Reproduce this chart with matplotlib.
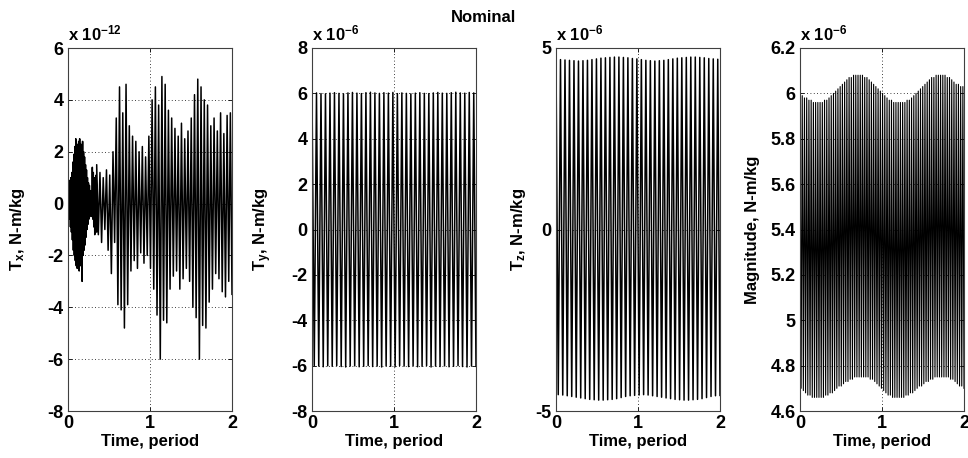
import numpy as np
import matplotlib
matplotlib.use("Agg")
import matplotlib.pyplot as plt

plt.rcParams['font.family'] = ['Liberation Sans', 'DejaVu Sans']
plt.rcParams['font.weight'] = 'bold'
plt.rcParams['axes.unicode_minus'] = False
plt.rcParams['mathtext.fontset'] = 'custom'
plt.rcParams['mathtext.rm'] = 'Liberation Sans:bold'
plt.rcParams['mathtext.bf'] = 'Liberation Sans:bold'
plt.rcParams['mathtext.it'] = 'Liberation Sans:bold'
plt.rcParams['mathtext.default'] = 'bf'

# ---------------- data (peak / trough values) ----------------
# Tx in units of 1e-12 N-m/kg
tx_blob_upper = [0.3, 0.6, 0.9, 1.0, 1.2, 1.6, 1.9, 2.2, 2.5, 2.3, 2.1, 2.4, 2.5, 2.3, 2.2,
                 2.4, 2.0, 1.8, 1.5, 1.3, 1.0, 0.8, 0.7, 0.5, 0.4, 1.4, 1.2, 1.0, 0.9, 1.1]
tx_blob_lower = [-0.3, -0.6, -0.9, -1.1, -1.4, -1.8, -2.0, -2.2, -2.4, -2.5, -2.3, -2.6, -2.4, -2.2, -3.0,
                 -2.0, -1.8, -1.6, -1.3, -1.0, -0.8, -0.6, -0.5, -0.4, -0.5, -0.6, -0.9, -1.2, -1.0, -1.1]
tx_main_upper = [1.5, 1.2, 1.0, 1.3, 1.1, 2.0,
                 3.3, 4.5, 3.5, 4.6, 3.0,
                 2.6, 2.4, 2.0, 2.2, 1.8,
                 2.6, 4.0, 4.5, 3.8, 4.9, 4.6, 3.6, 3.3,
                 2.9, 2.6, 3.1, 2.5, 2.8,
                 3.3, 4.2, 4.8, 4.5, 4.0, 3.8, 3.0, 3.3,
                 2.8, 3.5, 2.7, 3.4, 3.5]
tx_main_lower = [-1.2, -1.5, -1.0, -1.8, -2.7, -1.5,
                 -3.9, -4.1, -4.8, -3.9, -2.6,
                 -2.2, -2.5, -1.9, -2.3, -2.0,
                 -2.5, -3.3, -4.3, -6.0, -4.5, -4.6, -3.3, -2.8,
                 -2.6, -3.3, -2.9, -2.5, -3.0,
                 -4.0, -4.4, -6.0, -4.7, -4.8, -3.8, -3.3, -2.7,
                 -2.9, -3.4, -3.6, -3.0, -3.5]
tx_blob_end = 0.35

# Ty in units of 1e-6 N-m/kg
ty_upper = [6.00, 6.02, 5.99, 5.98, 6.01, 6.03, 6.00, 5.98, 6.02, 6.04, 6.01, 5.99, 6.03,
            6.05, 6.02, 6.00, 6.03, 6.01, 6.04, 5.99, 6.02, 6.00, 5.98, 6.01, 6.03, 6.00,
            5.99, 6.02, 6.04, 6.01, 6.00, 6.03, 6.05, 6.02, 6.01, 6.04, 6.02]
ty_lower = [-6.00, -6.02, -6.05, -6.01, -6.03, -6.00, -6.04, -6.06, -6.02, -6.01, -6.05,
            -6.03, -6.00, -6.04, -6.02, -6.06, -6.01, -6.03, -6.05, -6.00, -6.02, -6.04,
            -6.01, -6.05, -6.03, -6.00, -6.06, -6.02, -6.04, -6.01, -6.05, -6.03, -6.00,
            -6.04, -6.06, -6.02, -6.03]

# Tz in units of 1e-6 N-m/kg
tz_upper = [4.70, 4.68, 4.67, 4.66, 4.65, 4.64, 4.65, 4.66, 4.68, 4.70, 4.72, 4.73, 4.74,
            4.75, 4.75, 4.74, 4.73, 4.71, 4.70, 4.68, 4.66, 4.65, 4.64, 4.65, 4.66, 4.68,
            4.70, 4.72, 4.73, 4.74, 4.75, 4.75, 4.74, 4.73, 4.71, 4.70, 4.69]
tz_lower = [-4.55, -4.56, -4.58, -4.60, -4.62, -4.64, -4.66, -4.68, -4.69, -4.70, -4.70,
            -4.69, -4.68, -4.66, -4.63, -4.60, -4.58, -4.57, -4.56, -4.55, -4.56, -4.58,
            -4.60, -4.62, -4.64, -4.66, -4.68, -4.69, -4.70, -4.70, -4.69, -4.68, -4.66,
            -4.63, -4.60, -4.58, -4.57]

# Magnitude in units of 1e-6 N-m/kg
mag_upper = [6.00, 5.99, 5.98, 5.98, 5.97, 5.97, 5.96, 5.96, 5.96, 5.96, 5.96, 5.97, 5.97,
             5.98, 5.99, 6.00, 6.01, 6.02, 6.03, 6.04, 6.05, 6.06, 6.07, 6.07, 6.08, 6.08,
             6.08, 6.08, 6.08, 6.07, 6.07, 6.06, 6.05, 6.04, 6.03, 6.02, 6.01,
             6.00, 5.99, 5.98, 5.97, 5.97, 5.96, 5.96, 5.96, 5.96, 5.96, 5.96, 5.97, 5.97,
             5.98, 5.99, 6.00, 6.01, 6.02, 6.03, 6.04, 6.05, 6.06, 6.07, 6.07, 6.08, 6.08,
             6.08, 6.08, 6.08, 6.07, 6.07, 6.06, 6.05, 6.04, 6.04, 6.03, 6.03]
mag_lower = [4.70, 4.69, 4.68, 4.67, 4.67, 4.66, 4.66, 4.66, 4.66, 4.66, 4.66, 4.67, 4.67,
             4.68, 4.68, 4.69, 4.70, 4.71, 4.71, 4.72, 4.73, 4.73, 4.74, 4.74, 4.75, 4.75,
             4.75, 4.75, 4.75, 4.75, 4.75, 4.74, 4.74, 4.73, 4.72, 4.71, 4.70,
             4.69, 4.68, 4.67, 4.67, 4.66, 4.66, 4.66, 4.66, 4.66, 4.66, 4.67, 4.67, 4.68,
             4.68, 4.69, 4.70, 4.71, 4.71, 4.72, 4.73, 4.73, 4.74, 4.74, 4.75, 4.75, 4.75,
             4.75, 4.75, 4.75, 4.75, 4.74, 4.74, 4.73, 4.72, 4.71, 4.71, 4.70]

xticks = [0, 1, 2]
tx_yticks = [-8, -6, -4, -2, 0, 2, 4, 6]
ty_yticks = [-8, -6, -4, -2, 0, 2, 4, 6, 8]
tz_yticks = [-5, 0, 5]
mag_yticks = [4.6, 4.8, 5.0, 5.2, 5.4, 5.6, 5.8, 6.0, 6.2]
mag_yticklabels = ['4.6', '4.8', '5', '5.2', '5.4', '5.6', '5.8', '6', '6.2']


def interleave(upper, lower):
    y = np.empty(2 * len(upper))
    y[0::2] = upper
    y[1::2] = lower
    return y


def series(upper, lower, t0=0.0, t1=2.0):
    y = interleave(upper, lower)
    t = np.linspace(t0, t1, len(y))
    return t, y


t_b, y_b = series(tx_blob_upper, tx_blob_lower, 0.0, tx_blob_end)
t_m, y_m = series(tx_main_upper, tx_main_lower, tx_blob_end, 2.0)
tx_t = np.concatenate([t_b, t_m])
tx_y = np.concatenate([y_b, y_m])

panels = [
    (tx_t, tx_y, (-8, 6), tx_yticks, None, r'T$_{x}$, N-m/kg', r'x 10$^{-12}$', 1.1, -0.25),
    (*series(ty_upper, ty_lower), (-8, 8), ty_yticks, None, r'T$_{y}$, N-m/kg', r'x 10$^{-6}$', 1.1, -0.23),
    (*series(tz_upper, tz_lower), (-5, 5), tz_yticks, None, r'T$_{z}$, N-m/kg', r'x 10$^{-6}$', 1.1, -0.17),
    (*series(mag_upper, mag_lower), (4.6, 6.2), mag_yticks, mag_yticklabels,
     'Magnitude, N-m/kg', r'x 10$^{-6}$', 0.8, -0.245),
]

W, H = 968, 458
fig = plt.figure(figsize=(W / 100, H / 100), dpi=100)
lefts = [68, 312, 556, 800]
ax_w = 164
top, bottom = 48, 411
FS = 12
TFS = 13

for left, (t, y, ylim, yt, ytl, ylabel, mult, lw, ylx) in zip(lefts, panels):
    ax = fig.add_axes([left / W, 1 - bottom / H, ax_w / W, (bottom - top) / H])
    ax.plot(t, y, color='black', lw=lw, antialiased=True)
    ax.set_xlim(0, 2)
    ax.set_ylim(*ylim)
    ax.set_xticks(xticks)
    ax.set_yticks(yt)
    if ytl is not None:
        ax.set_yticklabels(ytl)
    ax.grid(True, color='black', linestyle=(0, (1, 3)), linewidth=0.6)
    ax.tick_params(direction='in', length=3, labelsize=TFS, pad=3,
                   top=True, right=True, width=0.6)
    for lab in ax.get_xticklabels() + ax.get_yticklabels():
        lab.set_fontweight('bold')
    for s in ax.spines.values():
        s.set_color('#404040')
        s.set_linewidth(0.8)
    ax.set_xlabel('Time, period', fontsize=FS, fontweight='bold', labelpad=1)
    ax.set_ylabel(ylabel, fontsize=FS, fontweight='bold')
    ax.yaxis.set_label_coords(ylx, 0.5)
    ax.text(0.0, 1.012, mult, transform=ax.transAxes, ha='left', va='bottom',
            fontsize=FS, fontweight='bold')

fig.text(483 / W, 1 - 18 / H, 'Nominal', ha='center', va='center',
         fontsize=FS, fontweight='bold')

fig.savefig('out.png', dpi=100, facecolor='white')
